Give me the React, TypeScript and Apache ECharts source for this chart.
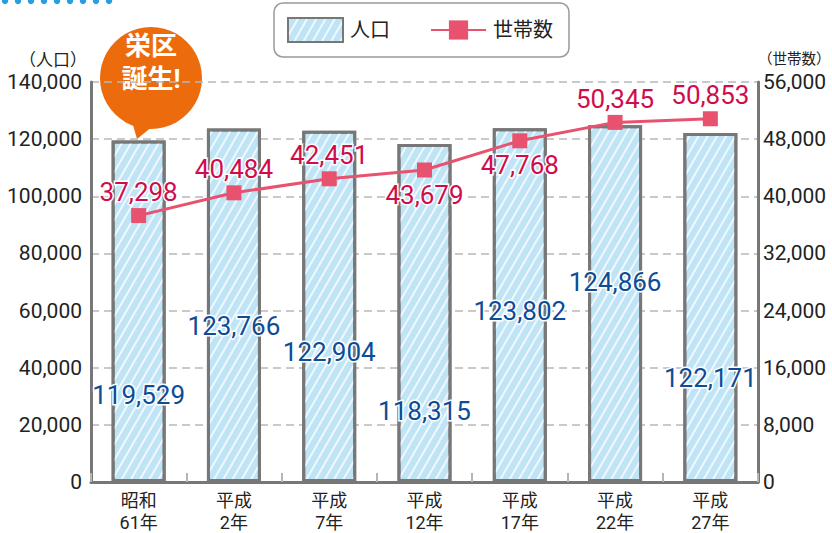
import React, { useEffect, useRef } from 'react';
import * as echarts from 'echarts';

const categories = ['昭和\n61年', '平成\n2年', '平成\n7年', '平成\n12年', '平成\n17年', '平成\n22年', '平成\n27年'];
const population = [119529, 123766, 122904, 118315, 123802, 124866, 122171];
const households = [37298, 40484, 42451, 43679, 47768, 50345, 50853];
const popAxis = { min: 0, max: 140000, interval: 20000 };
const hhAxis = { min: 0, max: 56000, interval: 8000 };
const seriesNames = ['人口', '世帯数'];
const axisNames = ['（人口）', '（世帯数）'];
const bubbleLines = ['栄区', '誕生!'];

// styling (layout only)
const GRID = { left: 91, right: 74, top: 82, bottom: 51 };
const CHART_H = 533;
const BAR_LABEL_CENTER_Y = [395, 326, 352, 411, 311, 282, 378];
const HH_LABEL_POS = ['top', 'top', 'top', 'bottom', 'bottom', 'top', 'top'];

const FONT = "Roboto, 'Noto Sans CJK JP', sans-serif";
const fmt = (v: number) => v.toLocaleString('en-US');

export default function App() {
  const ref = useRef<HTMLDivElement>(null);
  useEffect(() => {
    document.body.style.margin = '0';
    const chart = echarts.init(ref.current!, null, { renderer: 'svg' });
    const plotH = CHART_H - GRID.top - GRID.bottom;
    const barData = population.map((v, i) => {
      const top = GRID.top + (1 - v / popAxis.max) * plotH;
      return {
        value: v,
        label: { position: ['50%', BAR_LABEL_CENTER_Y[i] - top] },
      };
    });
    const lineData = households.map((v, i) => ({
      value: v,
      label: { position: HH_LABEL_POS[i], distance: HH_LABEL_POS[i] === 'top' ? 3 : 4 },
    }));
    const dots = Array.from({ length: 9 }, (_, i) => ({
      type: 'circle',
      shape: { cx: 5 + i * 13, cy: 1, r: 3.2 },
      style: { fill: '#2b9ee0' },
      silent: true,
    }));
    chart.setOption({
      animation: false,
      textStyle: { fontFamily: FONT },
      grid: { ...GRID, containLabel: false, outerBoundsMode: 'none' },
      legend: {
        left: 274,
        top: 3,
        padding: [14, 16, 14, 13],
        itemGap: 40,
        itemWidth: 55,
        itemHeight: 24,
        borderColor: '#999',
        borderWidth: 1.5,
        borderRadius: 9,
        textStyle: { fontSize: 20, color: '#222', fontFamily: FONT, padding: [0, 0, 0, 2] },
        data: [
          { name: seriesNames[0], icon: 'rect' },
          { name: seriesNames[1] },
        ],
      },
      xAxis: {
        type: 'category',
        data: categories,
        axisLine: { lineStyle: { color: '#777', width: 3 } },
        axisTick: { show: true, inside: true, length: 9, lineStyle: { color: '#b5b5b5', width: 2 } },
        axisLabel: { fontSize: 18, lineHeight: 22, color: '#222', margin: 7, fontFamily: FONT },
      },
      yAxis: [
        {
          type: 'value',
          ...popAxis,
          name: axisNames[0],
          nameLocation: 'end',
          nameGap: 14,
          nameTextStyle: { fontSize: 17, color: '#222', align: 'right', padding: [0, 4, 0, 0], fontFamily: FONT },
          axisLine: { show: true, lineStyle: { color: '#777', width: 3 } },
          axisTick: { show: false },
          axisLabel: { fontSize: 21, color: '#222', margin: 9, formatter: fmt, fontFamily: FONT },
          splitLine: { lineStyle: { color: '#b8b8b8', width: 1.5, type: [8, 5] } },
        },
        {
          type: 'value',
          ...hhAxis,
          name: axisNames[1],
          nameLocation: 'end',
          nameGap: 15,
          nameTextStyle: { fontSize: 14.5, color: '#222', align: 'left', padding: [0, 0, 0, 0], fontFamily: FONT },
          axisLine: { show: true, lineStyle: { color: '#777', width: 3 } },
          axisTick: { show: false },
          axisLabel: { fontSize: 21, color: '#222', margin: 5, formatter: fmt, fontFamily: FONT },
          splitLine: { show: false },
        },
      ],
      series: [
        {
          name: seriesNames[0],
          type: 'bar',
          barWidth: 54,
          data: barData,
          itemStyle: {
            color: '#bfe4f6',
            borderColor: '#777',
            borderWidth: 3,
            decal: {
              symbol: 'rect',
              symbolSize: 1,
              color: 'rgba(255,255,255,0.75)',
              dashArrayX: [1, 0],
              dashArrayY: [2, 6],
              rotation: -Math.PI / 3,
            },
          },
          label: {
            show: true,
            formatter: (p: any) => fmt(p.value),
            align: 'center',
            verticalAlign: 'middle',
            fontSize: 26,
            color: '#0d4c96',
            textBorderColor: '#fff',
            textBorderWidth: 3,
            fontFamily: FONT,
          },
          z: 2,
        },
        {
          name: seriesNames[1],
          type: 'line',
          yAxisIndex: 1,
          data: lineData,
          color: '#e9526e',
          lineStyle: { color: '#e9526e', width: 3 },
          itemStyle: { color: '#e9526e' },
          symbol: 'rect',
          symbolSize: 15,
          label: {
            show: true,
            formatter: (p: any) => fmt(p.value),
            fontSize: 26,
            color: '#cf0d4b',
            textBorderColor: '#fff',
            textBorderWidth: 3,
            fontFamily: FONT,
          },
          z: 3,
        },
      ],
      graphic: [
        ...dots,
        {
          type: 'group',
          silent: true,
          children: [
            { type: 'circle', shape: { cx: 151, cy: 78, r: 51 }, style: { fill: '#ec6b0c' } },
            { type: 'polygon', shape: { points: [[131, 118], [137, 139], [158, 122]] }, style: { fill: '#ec6b0c' } },
            {
              type: 'text',
              x: 151,
              y: 46,
              style: { text: bubbleLines[0], fill: '#fff', fontSize: 26, fontWeight: 'bold', align: 'center', verticalAlign: 'middle', fontFamily: FONT },
            },
            {
              type: 'text',
              x: 151,
              y: 79,
              style: { text: bubbleLines[1], fill: '#fff', fontSize: 26, fontWeight: 'bold', align: 'center', verticalAlign: 'middle', fontFamily: FONT },
            },
          ],
        },
      ],
    });
    return () => chart.dispose();
  }, []);
  return <div ref={ref} style={{ width: 832, height: 533 }} />;
}
